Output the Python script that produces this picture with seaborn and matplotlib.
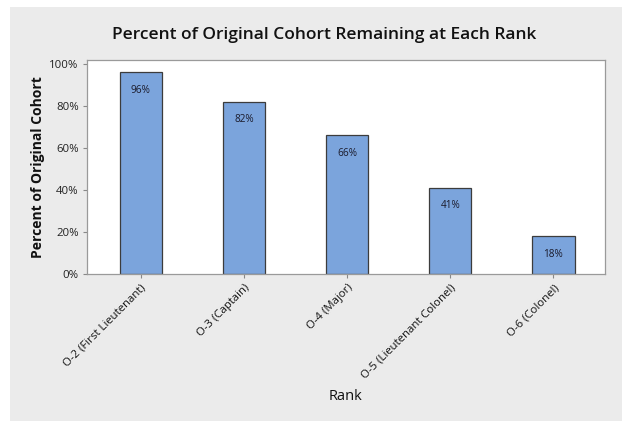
import matplotlib
matplotlib.use("Agg")
import matplotlib.pyplot as plt
import seaborn as sns
import pandas as pd
from matplotlib.patches import Rectangle

ranks = ["O-2 (First Lieutenant)", "O-3 (Captain)", "O-4 (Major)",
         "O-5 (Lieutenant Colonel)", "O-6 (Colonel)"]
percent_remaining = [96, 82, 66, 41, 18]
y_ticks = [0, 20, 40, 60, 80, 100]

df = pd.DataFrame({"Rank": ranks, "Percent": percent_remaining})

sns.set_theme(style="white")
plt.rcParams["font.family"] = ["Open Sans", "DejaVu Sans"]

fig = plt.figure(figsize=(6.22, 4.21), dpi=100)
fig.patch.set_facecolor("white")
# light gray panel behind the chart
fig.patches.append(Rectangle((10 / 622, 0), 1 - 10 / 622, 1 - 7 / 421,
                             transform=fig.transFigure, facecolor="#ebebeb",
                             edgecolor="none", zorder=-10))

ax = fig.add_axes([87 / 622, 1 - 274 / 421, (605 - 87) / 622, (274 - 60) / 421])
ax.set_zorder(1)
ax.set_facecolor("white")

sns.barplot(data=df, x="Rank", y="Percent", ax=ax, color="#7ba4dc",
            width=0.41, edgecolor="#3c3c3c", linewidth=0.9, saturation=1)

for i, v in enumerate(percent_remaining):
    ax.annotate(f"{v}%", (i, v), xytext=(0, -13), textcoords="offset points",
                ha="center", va="center", fontsize=7.2, color="#1a1a2a")

ax.set_xlim(-0.52, 4.5)
ax.set_ylim(0, 101.9)
ax.set_yticks(y_ticks)
ax.set_yticklabels([f"{t}%" for t in y_ticks], fontsize=8.2, color="#222222")
ax.set_xticks(range(len(ranks)))
ax.set_xticklabels(ranks, rotation=45, ha="right", rotation_mode="anchor",
                   fontsize=8.2, color="#111111")
ax.tick_params(axis="both", which="major", length=3, width=0.8,
               color="#888888", bottom=True, left=True, pad=3)

for s in ax.spines.values():
    s.set_color("#9a9a9a")
    s.set_linewidth(0.9)

ax.set_xlabel("Rank", fontsize=10.5, color="#111111", va="center")
ax.xaxis.set_label_coords(0.5, (274 - 397) / 214)
ax.set_ylabel("Percent of Original Cohort", fontsize=10, fontweight="bold",
              color="#111111", va="center")
ax.yaxis.set_label_coords((38 - 87) / 518, 0.5)

fig.text(324 / 622, 1 - 35 / 421, "Percent of Original Cohort Remaining at Each Rank",
         ha="center", va="center", fontsize=12.5, fontweight="semibold",
         color="#111111")

fig.savefig("out.png", dpi=100)
